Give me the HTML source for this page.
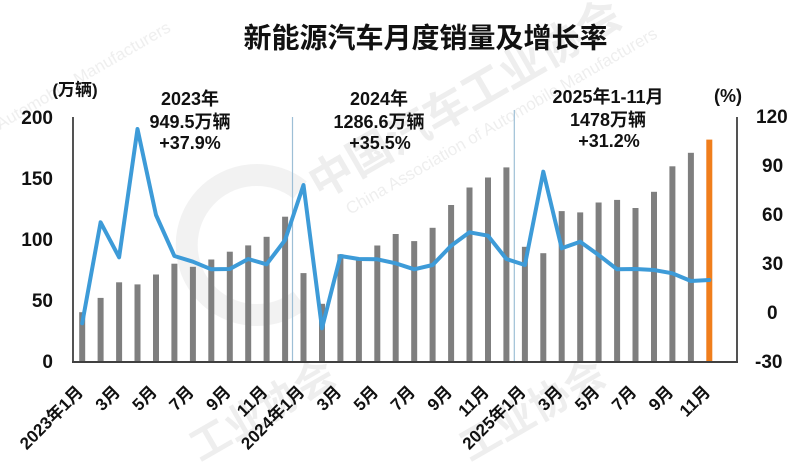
<!DOCTYPE html>
<html>
<head>
<meta charset="utf-8">
<style>
html,body{margin:0;padding:0;background:#fff;width:800px;height:462px;overflow:hidden;}
svg{display:block;overflow:hidden;}
text{font-family:"Liberation Sans","Noto Sans CJK SC",sans-serif;font-weight:bold;fill:#111;}
</style>
</head>
<body>
<svg width="800" height="462" viewBox="0 0 800 462" xmlns="http://www.w3.org/2000/svg">
<defs><clipPath id="c"><rect width="800" height="462"/></clipPath></defs>
<rect width="800" height="462" fill="#fff"/>
<!-- watermark -->
<g opacity="0.07" clip-path="url(#c)">
  <text x="320" y="200" font-size="44" transform="rotate(-30 320 200)" style="fill:#000">中国汽车工业协会</text>
  <text x="350" y="215" font-size="17" transform="rotate(-30 350 215)" style="fill:#000;font-weight:normal">China Association of Automobile Manufacturers</text>
  <text x="0" y="130" font-size="17" transform="rotate(-30 0 130)" style="fill:#000;font-weight:normal">Automobile Manufacturers</text>
  <text x="200" y="462" font-size="40" transform="rotate(-30 200 462)" style="fill:#000">工业协会</text>
  <text x="470" y="462" font-size="40" transform="rotate(-30 470 462)" style="fill:#000">工业协会</text>
</g>
<path d="M300 190 A70 70 0 1 0 300 300" fill="none" stroke="#000" stroke-opacity="0.05" stroke-width="22"/>

<!-- title -->
<text x="425.5" y="47.5" font-size="28" text-anchor="middle">新能源汽车月度销量及增长率</text>

<!-- unit labels -->
<text x="75" y="95.5" font-size="17" text-anchor="middle">(万辆)</text>
<text x="728" y="102" font-size="18" text-anchor="middle">(%)</text>

<!-- left ticks -->
<g font-size="19" text-anchor="end">
  <text x="53" y="124">200</text>
  <text x="53" y="185">150</text>
  <text x="53" y="246">100</text>
  <text x="53" y="307">50</text>
  <text x="53" y="368">0</text>
</g>
<!-- right ticks -->
<g font-size="19" text-anchor="start">
  <text x="756" y="123">120</text>
  <text x="762" y="172">90</text>
  <text x="762" y="221">60</text>
  <text x="762" y="270">30</text>
  <text x="767" y="319">0</text>
  <text x="755" y="368">-30</text>
</g>

<!-- separators -->
<line x1="292.5" y1="117" x2="292.5" y2="362" stroke="#9dbfd6" stroke-width="1.2"/>
<line x1="514.3" y1="110" x2="514.3" y2="362" stroke="#9dbfd6" stroke-width="1.2"/>

<!-- bars -->
<g fill="#7f7f7f">
<rect x="79.2" y="312.2" width="6" height="49.8"/>
<rect x="97.6" y="297.9" width="6" height="64.1"/>
<rect x="116.1" y="282.3" width="6" height="79.7"/>
<rect x="134.5" y="284.4" width="6" height="77.6"/>
<rect x="153.0" y="274.5" width="6" height="87.5"/>
<rect x="171.4" y="263.7" width="6" height="98.3"/>
<rect x="189.9" y="266.8" width="6" height="95.2"/>
<rect x="208.3" y="259.5" width="6" height="102.5"/>
<rect x="226.8" y="251.7" width="6" height="110.3"/>
<rect x="245.2" y="245.4" width="6" height="116.6"/>
<rect x="263.6" y="236.8" width="6" height="125.2"/>
<rect x="282.1" y="216.7" width="6" height="145.3"/>
<rect x="300.5" y="273.1" width="6" height="88.9"/>
<rect x="319.0" y="303.8" width="6" height="58.2"/>
<rect x="337.4" y="254.3" width="6" height="107.7"/>
<rect x="355.9" y="258.3" width="6" height="103.7"/>
<rect x="374.3" y="245.5" width="6" height="116.5"/>
<rect x="392.7" y="234.0" width="6" height="128.0"/>
<rect x="411.2" y="241.1" width="6" height="120.9"/>
<rect x="429.6" y="227.8" width="6" height="134.2"/>
<rect x="448.1" y="205.0" width="6" height="157.0"/>
<rect x="466.5" y="187.5" width="6" height="174.5"/>
<rect x="485.0" y="177.5" width="6" height="184.5"/>
<rect x="503.4" y="167.4" width="6" height="194.6"/>
<rect x="521.9" y="246.8" width="6" height="115.2"/>
<rect x="540.3" y="253.2" width="6" height="108.8"/>
<rect x="558.7" y="211.1" width="6" height="150.9"/>
<rect x="577.2" y="212.4" width="6" height="149.6"/>
<rect x="595.6" y="202.5" width="6" height="159.5"/>
<rect x="614.1" y="199.9" width="6" height="162.1"/>
<rect x="632.5" y="208.0" width="6" height="154.0"/>
<rect x="651.0" y="191.8" width="6" height="170.2"/>
<rect x="669.4" y="166.3" width="6" height="195.7"/>
<rect x="687.9" y="152.8" width="6" height="209.2"/>
</g>
<rect x="706.3" y="139.6" width="6" height="222.4" fill="#f07e1c"/>

<!-- axes -->
<line x1="73" y1="117" x2="73" y2="363" stroke="#404040" stroke-width="1.8"/>
<line x1="737" y1="117" x2="737" y2="363" stroke="#404040" stroke-width="1.8"/>
<line x1="72" y1="362" x2="738" y2="362" stroke="#404040" stroke-width="2"/>

<!-- growth line -->
<polyline fill="none" stroke="#3d9bd8" stroke-width="4" stroke-linejoin="round" stroke-linecap="round"
points="82.2,323.3 100.6,222.3 119.1,257.3 137.5,129 156.0,215 174.4,256 192.9,261.7 211.3,269.3 229.8,269 248.2,259 266.6,264.3 285.1,240 303.5,185 322.0,328.3 340.4,256 358.9,259 377.3,259.3 395.7,263.3 414.2,269.3 432.6,265 451.1,245.7 469.5,232.3 488.0,235.7 506.4,259 524.9,265 543.3,171.7 561.7,248.3 580.2,241.7 598.6,255 617.1,269.3 635.5,269 654.0,270 672.4,273.3 690.9,281 709.3,280"/>

<!-- annotations -->
<g font-size="18" text-anchor="middle">
  <text x="190" y="105">2023年</text>
  <text x="190" y="128">949.5万辆</text>
  <text x="190" y="149">+37.9%</text>
  <text x="379" y="105">2024年</text>
  <text x="379" y="128">1286.6万辆</text>
  <text x="380" y="149">+35.5%</text>
  <text x="608" y="103">2025年1-11月</text>
  <text x="608" y="126">1478万辆</text>
  <text x="609" y="147">+31.2%</text>
</g>

<!-- x labels -->
<g font-size="17" text-anchor="end">
<text x="84.2" y="393" transform="rotate(-45 84.2 393)">2023年1月</text>
<text x="121.1" y="393" transform="rotate(-45 121.1 393)">3月</text>
<text x="158.0" y="393" transform="rotate(-45 158.0 393)">5月</text>
<text x="194.9" y="393" transform="rotate(-45 194.9 393)">7月</text>
<text x="231.8" y="393" transform="rotate(-45 231.8 393)">9月</text>
<text x="268.6" y="393" transform="rotate(-45 268.6 393)">11月</text>
<text x="305.5" y="393" transform="rotate(-45 305.5 393)">2024年1月</text>
<text x="342.4" y="393" transform="rotate(-45 342.4 393)">3月</text>
<text x="379.3" y="393" transform="rotate(-45 379.3 393)">5月</text>
<text x="416.2" y="393" transform="rotate(-45 416.2 393)">7月</text>
<text x="453.1" y="393" transform="rotate(-45 453.1 393)">9月</text>
<text x="490.0" y="393" transform="rotate(-45 490.0 393)">11月</text>
<text x="526.9" y="393" transform="rotate(-45 526.9 393)">2025年1月</text>
<text x="563.7" y="393" transform="rotate(-45 563.7 393)">3月</text>
<text x="600.6" y="393" transform="rotate(-45 600.6 393)">5月</text>
<text x="637.5" y="393" transform="rotate(-45 637.5 393)">7月</text>
<text x="674.4" y="393" transform="rotate(-45 674.4 393)">9月</text>
<text x="711.3" y="393" transform="rotate(-45 711.3 393)">11月</text>
</g>
</svg>
</body>
</html>
